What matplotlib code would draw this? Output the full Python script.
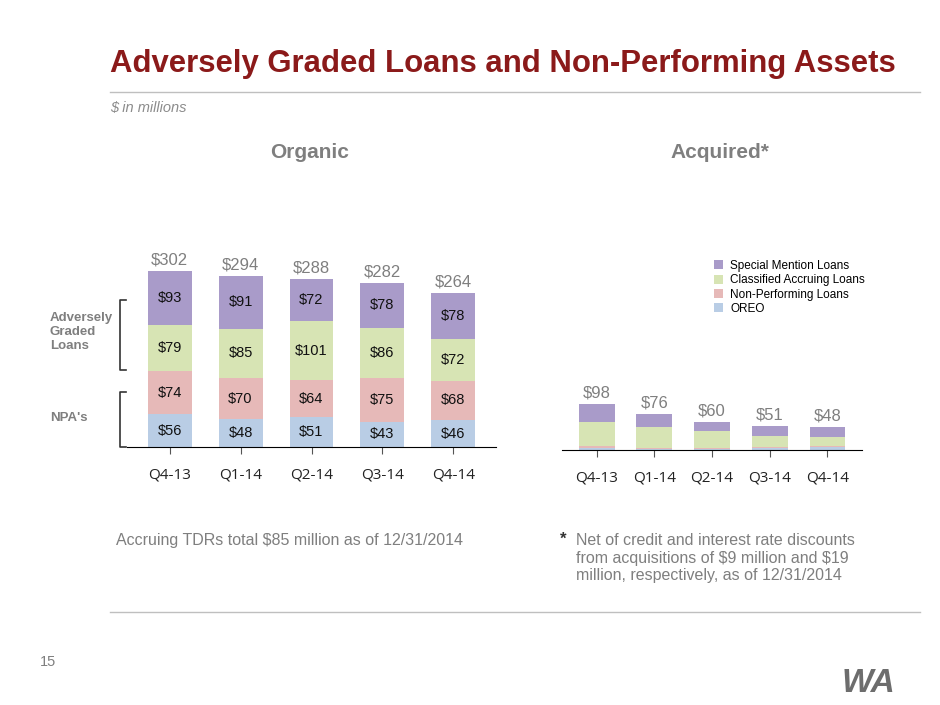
import matplotlib
matplotlib.use("Agg")
import matplotlib.pyplot as plt

plt.rcParams['font.family'] = ['Liberation Sans', 'DejaVu Sans']

quarters = ["Q4-13", "Q1-14", "Q2-14", "Q3-14", "Q4-14"]
series = ["OREO", "Non-Performing Loans", "Classified Accruing Loans", "Special Mention Loans"]
colors = ["#B9CDE5", "#E6B9B8", "#D7E4B4", "#A99BC9"]

org_oreo = [56, 48, 51, 43, 46]
org_npl = [74, 70, 64, 75, 68]
org_cal = [79, 85, 101, 86, 72]
org_sml = [93, 91, 72, 78, 78]
org_total = [302, 294, 288, 282, 264]

acq_oreo = [5, 3, 3, 4, 6]
acq_npl = [3, 1, 2, 2, 3]
acq_cal = [52, 44, 35, 23, 19]
acq_sml = [38, 28, 20, 22, 20]
acq_total = [98, 76, 60, 51, 48]

W, H = 940, 705
fig = plt.figure(figsize=(9.4, 7.05), dpi=100)
fig.patch.set_facecolor("white")

def ax_at(l, b, w, h):
    return fig.add_axes([l / W, b / H, w / W, h / H])

def style(ax):
    for s in ["top", "right", "left"]:
        ax.spines[s].set_visible(False)
    ax.spines["bottom"].set_color("black")
    ax.set_yticks([])
    ax.set_xticks(range(5))
    ax.set_xticklabels(quarters, fontsize=11, color="#222222", family="Open Sans")
    ax.tick_params(axis="x", length=5, pad=10, color="#555555")
    ax.set_xlim(-0.6, 4.6)

# Organic
k1 = 0.583
ax1 = ax_at(127, 258, 369, 330 * k1)
ax1.set_ylim(0, 330)
style(ax1)
bottom = [0] * 5
for vals, c in zip([org_oreo, org_npl, org_cal, org_sml], colors):
    ax1.bar(range(5), vals, 0.62, bottom=bottom, color=c)
    for i, v in enumerate(vals):
        ax1.text(i, bottom[i] + v / 2, f"\\${v}", ha="center", va="center", fontsize=10.5, color="#111111")
    bottom = [b + v for b, v in zip(bottom, vals)]
for i, t in enumerate(org_total):
    ax1.text(i, t + 6, f"\\${t}", ha="center", va="bottom", fontsize=12, color="#7F7F7F")

# Acquired
ax2 = ax_at(562, 255, 300, 120 * 0.47)
ax2.set_ylim(0, 120)
style(ax2)
bottom = [0] * 5
for vals, c, n in zip([acq_oreo, acq_npl, acq_cal, acq_sml], colors, series):
    ax2.bar(range(5), vals, 0.62, bottom=bottom, color=c, label=n)
    bottom = [b + v for b, v in zip(bottom, vals)]
for i, t in enumerate(acq_total):
    ax2.text(i, t + 8, f"\\${t}", ha="center", va="bottom", fontsize=12, color="#7F7F7F")

h, l = ax2.get_legend_handles_labels()
fig.legend(h[::-1], l[::-1], loc="upper left", bbox_to_anchor=(708 / W, 1 - 254 / H),
           frameon=False, fontsize=8.5, handlelength=0.8, handleheight=0.8,
           labelspacing=0.2, handletextpad=0.6, borderpad=0)

def ft(x, y, s, **kw):
    fig.text(x / W, 1 - y / H, s, **kw)

ft(110, 64, "Adversely Graded Loans and Non-Performing Assets", fontsize=22.4,
   fontweight="bold", color="#8B1A1A", va="center")
fig.add_artist(plt.Line2D([110 / W, 920 / W], [1 - 92 / H] * 2, color="#BFBFBF", lw=1))
ft(110, 108, "\\$ in millions", fontsize=10.5, style="italic", color="#8C8C8C", va="center")
ft(310, 153, "Organic", fontsize=15, fontweight="bold", color="#7F7F7F", ha="center", va="center")
ft(720, 153, "Acquired*", fontsize=15, fontweight="bold", color="#7F7F7F", ha="center", va="center")

ft(50, 332, "Adversely\nGraded\nLoans", fontsize=9.5, fontweight="bold", color="#7F7F7F",
   va="center", linespacing=1.2)
ft(50, 418, "NPA's", fontsize=9.5, fontweight="bold", color="#7F7F7F", va="center")

def bracket(y0, y1):
    x0, x1 = 120 / W, 126 / W
    fig.add_artist(plt.Line2D([x1, x0, x0, x1], [1 - y0 / H, 1 - y0 / H, 1 - y1 / H, 1 - y1 / H],
                              color="#333333", lw=1.2))
bracket(300, 370)
bracket(392, 447)

ft(290, 541, "Accruing TDRs total \\$85 million as of 12/31/2014", fontsize=11.5,
   color="#7F7F7F", ha="center", va="center")
ft(560, 539, "*", fontsize=12, color="#333333", va="center", fontweight="bold")
ft(576, 558, "Net of credit and interest rate discounts\nfrom acquisitions of \\$9 million and \\$19\nmillion, respectively, as of 12/31/2014",
   fontsize=11.5, color="#7F7F7F", va="center", linespacing=1.2)

fig.add_artist(plt.Line2D([110 / W, 920 / W], [1 - 612 / H] * 2, color="#BFBFBF", lw=1))
ft(40, 662, "15", fontsize=10.5, color="#7F7F7F", va="center")
ft(868, 684, "WA", fontsize=24, fontweight="bold", color="#6D6D6D", ha="center", va="center",
   style="italic")

fig.savefig("out.png", dpi=100, facecolor="white")
